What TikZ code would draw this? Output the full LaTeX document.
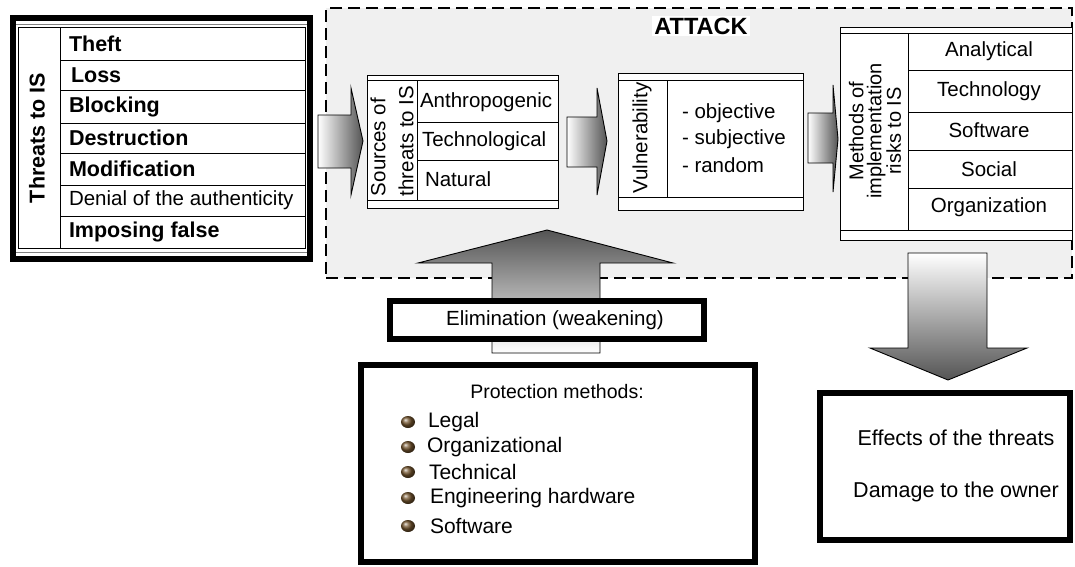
\documentclass[tikz,border=0pt]{standalone}
\usepackage{fontspec}
\setmainfont{Liberation Sans}
\definecolor{attackgray}{gray}{0.94}
\definecolor{arrowdark}{gray}{0.33}
\definecolor{bulletbrown}{rgb}{0.45,0.33,0.18}
\begin{document}
\begin{tikzpicture}[x=1pt,y=-1pt,
  every node/.style={inner sep=0pt, outer sep=0pt},
  txt/.style={font=\fontsize{20.5}{22}\selectfont},
  btxt/.style={font=\bfseries\fontsize{21.5}{22}\selectfont},
  frame/.style={draw, line width=1pt, fill=white},
  heavy/.style={draw, line width=6pt, fill=white},
  rule/.style={line width=1pt},
  softrule/.style={line width=0.8pt, draw=gray},
  blockarrow/.style={draw=black, line width=0.9pt},
  dotball/.style={ball color=bulletbrown}
]
\useasboundingbox (0,0) rectangle (1075,566);

% ---------- attack region ----------
\node[draw, line width=2.4pt, dash pattern=on 12pt off 6pt, fill=attackgray,
      minimum width=746, minimum height=270, anchor=north west] (attack) at (326,8) {};
\node[fill=white, inner sep=2pt, font=\bfseries\fontsize{23.5}{24}\selectfont] (attacktitle) at (701,26) {ATTACK};

% ---------- threats to IS ----------
\node[heavy, minimum width=297, minimum height=241, anchor=north west] (threats) at (13,18) {};
\draw[softrule] (16,24) -- (307,24);
\draw[softrule] (16,252) -- (307,252);
\draw[rule] (18,27) rectangle (305,248);
\draw[rule] (60,27) -- (60,248);
\foreach \y in {60,90,123,153,185,216} \draw[rule] (60,\y) -- (305,\y);
\node[btxt, rotate=90] (threatslabel) at (37,138) {Threats to IS};
\node[btxt, anchor=west] (thr1) at (69,43.5) {Theft};
\node[btxt, anchor=west] (thr2) at (71,75) {Loss};
\node[btxt, anchor=west] (thr3) at (69,106.5) {Blocking};
\node[btxt, anchor=west] (thr4) at (69,138) {Destruction};
\node[btxt, anchor=west] (thr5) at (69,169) {Modification};
\node[txt, anchor=west] (thr6) at (69,200.5) {Denial of the authenticity};
\node[btxt, anchor=west] (thr7) at (69,232) {Imposing false};

% ---------- block arrows inside the attack ----------
\path[blockarrow, left color=white, right color=arrowdark]
  (318,115) -- (351,115) -- (351,88) -- (363,141) -- (351,195) -- (351,168) -- (318,168) -- cycle;
\path[blockarrow, left color=white, right color=arrowdark]
  (567,117) -- (597,117) -- (597,88) -- (607,141) -- (597,195) -- (597,167) -- (567,167) -- cycle;
\path[blockarrow, left color=white, right color=arrowdark]
  (808,113) -- (833,113) -- (833,85) -- (838,139) -- (833,192) -- (833,163) -- (808,163) -- cycle;

% ---------- sources of threats ----------
\node[frame, minimum width=191, minimum height=133, anchor=north west] (sources) at (367,75) {};
\draw[rule] (367,80) -- (558,80);
\draw[rule] (367,200) -- (558,200);
\draw[rule] (417,80) -- (417,200);
\draw[rule] (417,122) -- (558,122);
\draw[rule] (417,160) -- (558,160);
\node[txt, rotate=90] (sourceslabA) at (378,147) {Sources of};
\node[txt, rotate=90] (sourceslabB) at (406,141) {threats to IS};
\node[txt, anchor=west] (src1) at (420,102) {Anthropogenic};
\node[txt, anchor=west] (src2) at (422,141) {Technological};
\node[txt, anchor=west] (src3) at (425,179) {Natural};

% ---------- vulnerability ----------
\node[frame, minimum width=185, minimum height=137, anchor=north west] (vuln) at (618,73) {};
\draw[rule] (618,80) -- (803,80);
\draw[rule] (618,197) -- (803,197);
\draw[rule] (667,80) -- (667,197);
\node[txt, rotate=90] (vulnlabel) at (642,138) {Vulnerability};
\node[txt, anchor=west] (vul1) at (682,113) {- objective};
\node[txt, anchor=west] (vul2) at (682,139) {- subjective};
\node[txt, anchor=west] (vul3) at (682,165) {- random};

% ---------- methods of implementation ----------
\node[frame, minimum width=232, minimum height=213, anchor=north west] (methods) at (840,27) {};
\draw[rule] (840,33) -- (1072,33);
\draw[rule] (840,230) -- (1072,230);
\draw[rule] (908,33) -- (908,230);
\foreach \y in {70,112,150,188} \draw[rule] (908,\y) -- (1072,\y);
\node[rotate=90, align=center, font=\fontsize{20}{18}\selectfont] (methodslabel) at (875,131)
  {Methods of\\implementation\\risks to IS};
\node[txt] (met1) at (989,51) {Analytical};
\node[txt] (met2) at (989,91) {Technology};
\node[txt] (met3) at (989,130) {Software};
\node[txt] (met4) at (989,169) {Social};
\node[txt] (met5) at (989,207) {Organization};

% ---------- elimination arrow and protection ----------
\path[blockarrow, top color=arrowdark, bottom color=white]
  (492,353) -- (600,353) -- (600,263) -- (673,263) -- (547,230) -- (418,263) -- (492,263) -- cycle;
\node[heavy, minimum width=314, minimum height=38, anchor=north west] (elim) at (390,301) {};
\node[txt] (elimtext) at (555,320) {Elimination (weakening)};

\node[heavy, minimum width=394, minimum height=197, anchor=north west] (protect) at (361,365) {};
\node[font=\fontsize{19.5}{21}\selectfont] (protecthead) at (557,392) {Protection methods:};
\foreach \yy in {422,447,472,498,526}
  \shade[dotball] (408,\yy) ellipse (7 and 6);
\node[font=\fontsize{21}{22}\selectfont, anchor=west] (pm1) at (428,422) {Legal};
\node[font=\fontsize{21}{22}\selectfont, anchor=west] (pm2) at (427,447) {Organizational};
\node[font=\fontsize{21}{22}\selectfont, anchor=west] (pm3) at (429,472) {Technical};
\node[font=\fontsize{21}{22}\selectfont, anchor=west] (pm4) at (430,498) {Engineering hardware};
\node[font=\fontsize{21}{22}\selectfont, anchor=west] (pm5) at (430,526) {Software};

% ---------- effects ----------
\path[blockarrow, top color=white, bottom color=arrowdark]
  (908,253) -- (987,253) -- (987,348) -- (1027,348) -- (948,380) -- (870,348) -- (908,348) -- cycle;
\node[heavy, minimum width=250, minimum height=147, anchor=north west] (effects) at (820,393) {};
\node[font=\fontsize{21.5}{22}\selectfont] (eff1) at (956,438) {Effects of the threats};
\node[font=\fontsize{21.5}{22}\selectfont] (eff2) at (956,492) {Damage to the owner};
\end{tikzpicture}
\end{document}
